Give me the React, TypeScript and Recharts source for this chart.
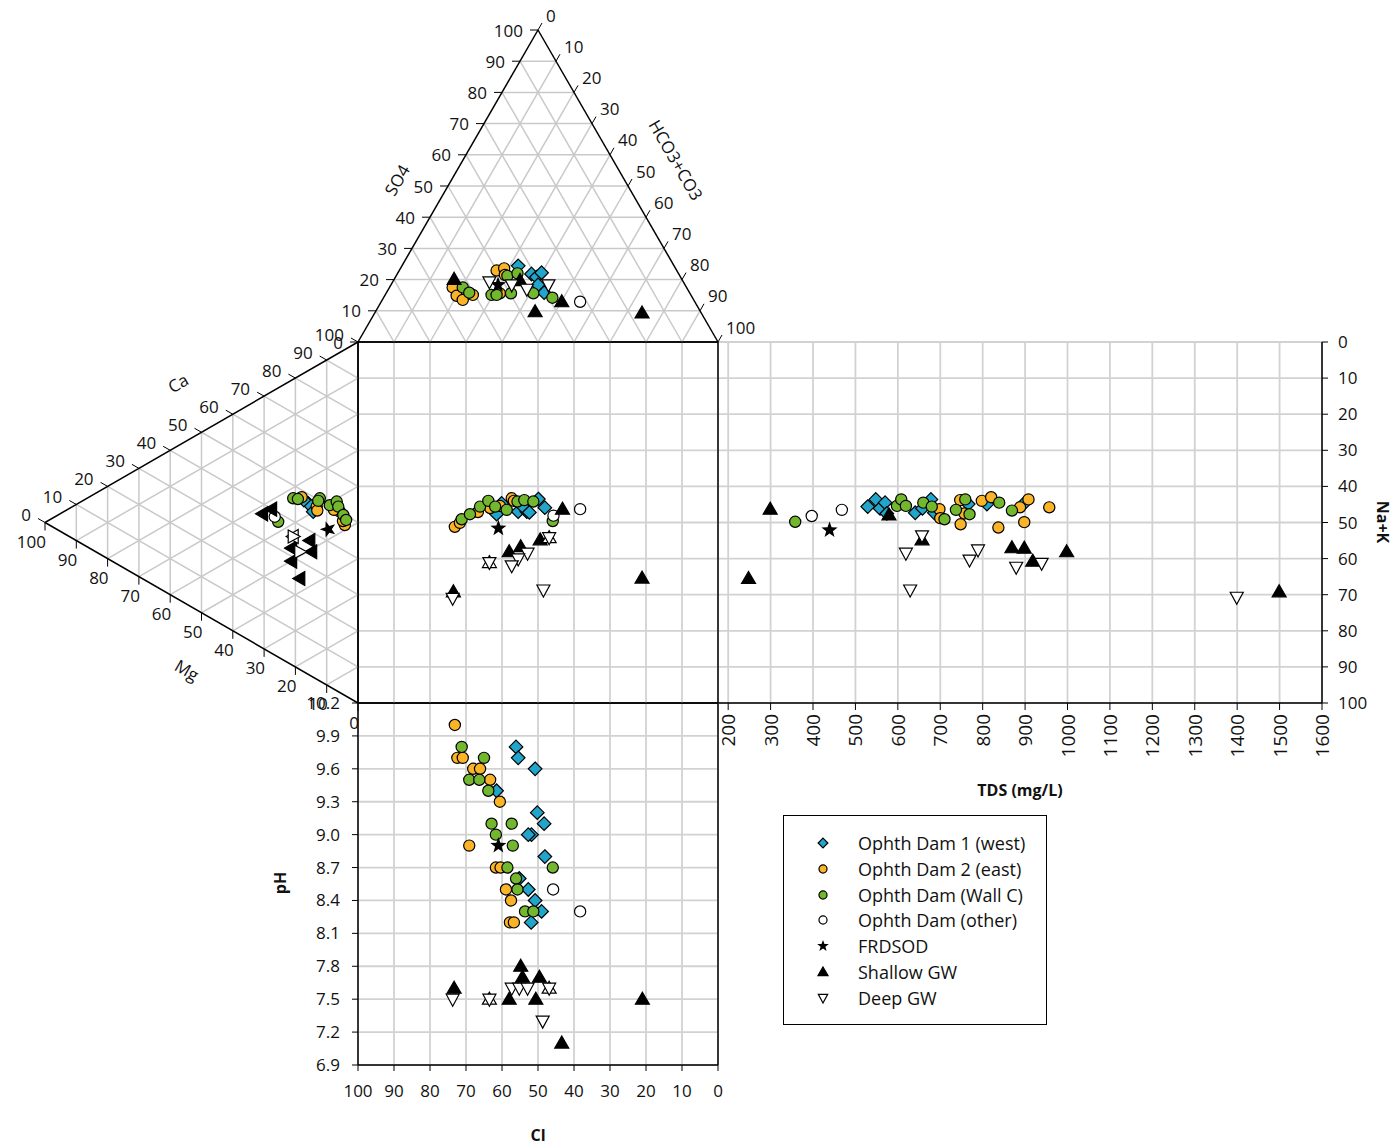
import React from 'react';
import { ScatterChart, Scatter, XAxis, YAxis, ReferenceLine, CartesianGrid } from 'recharts';

type Pt = [number, number];

// anion triangle: [Cl (read on Cl axis), SO4 %]
const topDam1: Pt[] = [[55.5, 24.4], [51.8, 21.8], [50.4, 20.8], [49.0, 22.2], [48.3, 15.8], [50.0, 18.3]];
const topDam2: Pt[] = [[73.7, 17.5], [72.6, 14.8], [70.9, 13.5], [68.1, 15.1], [61.5, 22.9], [59.4, 23.6], [59.2, 21.5], [60.6, 15.6]];
const topWallC: Pt[] = [[70.9, 17.5], [69.1, 15.8], [62.9, 15.1], [61.5, 15.1], [58.5, 21.2], [55.7, 22.0], [57.5, 15.6], [51.3, 15.6], [46.0, 14.2]];
const topOther: Pt[] = [[38.3, 12.9]];
const topFrdsod: Pt[] = [[61.1, 18.3]];
const topShallow: Pt[] = [[73.3, 20.1], [55.0, 19.7], [50.8, 9.7], [43.4, 12.9], [21.1, 9.3]];
const topDeep: Pt[] = [[63.5, 19.3], [57.3, 18.3], [53.1, 16.9], [47.1, 18.3]];

// cation triangle: [Mg %, Na+K (read on Na+K axis)]
const leftDam1: Pt[] = [[15.9, 44.7], [14.3, 47.0], [17.3, 43.8]];
const leftDam2: Pt[] = [[18.0, 43.0], [13.2, 45.6], [13.0, 46.7], [5.8, 47.0], [4.2, 50.7], [7.7, 46.5], [4.8, 49.6]];
const leftWallC: Pt[] = [[20.7, 43.3], [12.2, 43.3], [12.7, 44.0], [9.0, 45.2], [6.8, 44.2], [6.3, 45.6], [4.7, 47.9], [3.8, 49.3], [25.5, 49.8], [19.2, 43.5]];
const leftOther: Pt[] = [[26.6, 48.4]];
const leftFrdsod: Pt[] = [[9.5, 51.9]];
const leftShallow: Pt[] = [[30.5, 47.6], [27.6, 46.3], [15.4, 55.0], [21.2, 57.1], [14.8, 58.1], [21.2, 60.7], [18.6, 65.5]];
const leftDeep: Pt[] = [[18.6, 58.1], [20.7, 53.9]];
const leftHex: Pt[] = [[20.7, 53.9]];

// central square: [Cl, Na+K]
const sqDam1: Pt[] = [[61.5, 47.7], [55.5, 47.0], [53.1, 47.0], [52.4, 47.2], [49.9, 43.5], [48.1, 45.9], [60.1, 44.7], [54.4, 45.4]];
const sqDam2: Pt[] = [[73.1, 51.2], [71.7, 50.1], [66.7, 47.1], [63.3, 46.0], [57.3, 43.3], [56.7, 44.0], [60.6, 45.4]];
const sqWallC: Pt[] = [[71.2, 49.1], [68.9, 47.7], [66.1, 45.6], [63.8, 44.0], [61.9, 45.6], [58.7, 46.5], [55.7, 44.2], [53.8, 43.8], [51.3, 44.2], [45.9, 49.6]];
const sqOther: Pt[] = [[45.7, 48.1], [38.3, 46.3]];
const sqFrdsod: Pt[] = [[61.0, 51.6]];
const sqShallow: Pt[] = [[43.2, 46.3], [49.4, 54.8], [54.8, 56.7], [58.0, 58.1], [73.5, 69.2], [21.1, 65.4]];
const sqDeep: Pt[] = [[52.9, 58.5], [55.5, 60.1], [57.3, 62.0], [48.5, 68.7], [73.7, 71.0], [63.5, 61.1], [46.9, 54.2]];
const sqHex: Pt[] = [[63.5, 61.1], [46.9, 54.2]];

// TDS panel: [TDS mg/L, Na+K]
const tdsDam1: Pt[] = [[529, 45.6], [548, 43.6], [558, 46.1], [570, 44.5], [574, 47.5], [641, 47.3], [658, 46.1], [678, 43.6], [686, 47.3], [766, 44.9], [810, 44.9], [898, 44.7]];
const tdsDam2: Pt[] = [[698, 46.3], [700, 48.8], [747, 43.8], [757, 47.5], [748, 50.5], [798, 44.0], [820, 43.0], [837, 51.4], [888, 45.8], [908, 43.6], [957, 45.8], [898, 49.9]];
const tdsWallC: Pt[] = [[358, 49.8], [598, 45.4], [608, 43.6], [619, 45.4], [660, 44.5], [680, 45.6], [710, 49.1], [737, 46.5], [759, 43.6], [769, 47.7], [839, 44.5], [869, 46.7]];
const tdsOther: Pt[] = [[397, 48.2], [468, 46.5]];
const tdsFrdsod: Pt[] = [[439, 52.1]];
const tdsShallow: Pt[] = [[299, 46.3], [248, 65.5], [579, 47.9], [657, 54.8], [869, 57.0], [898, 57.1], [918, 60.7], [998, 58.1], [1499, 69.2]];
const tdsDeep: Pt[] = [[657, 53.7], [619, 58.5], [769, 60.4], [789, 57.6], [879, 62.4], [629, 68.7], [939, 61.3], [1399, 70.7]];

// pH panel: [Cl, pH]
const phDam1: Pt[] = [[56.1, 9.8], [55.5, 9.7], [50.8, 9.6], [61.5, 9.4], [50.2, 9.2], [48.3, 9.1], [51.8, 9.0], [52.7, 9.0], [48.1, 8.8], [55.2, 8.6], [52.7, 8.5], [50.8, 8.4], [49.0, 8.3], [51.9, 8.2]];
const phDam2: Pt[] = [[73.1, 10.0], [72.4, 9.7], [70.9, 9.7], [68.0, 9.6], [66.1, 9.6], [63.3, 9.5], [60.6, 9.3], [69.1, 8.9], [61.7, 8.7], [60.4, 8.7], [58.9, 8.5], [57.5, 8.4], [57.8, 8.2], [56.7, 8.2]];
const phWallC: Pt[] = [[71.2, 9.8], [65.0, 9.7], [69.1, 9.5], [66.3, 9.5], [63.8, 9.4], [62.9, 9.1], [57.3, 9.1], [61.7, 9.0], [57.0, 8.9], [58.5, 8.7], [45.9, 8.7], [56.1, 8.6], [55.7, 8.5], [53.6, 8.3], [51.3, 8.3]];
const phOther: Pt[] = [[45.8, 8.5], [38.3, 8.3]];
const phFrdsod: Pt[] = [[61.0, 8.9]];
const phShallow: Pt[] = [[73.3, 7.6], [54.8, 7.8], [54.3, 7.7], [49.6, 7.7], [58.0, 7.5], [50.6, 7.5], [21.0, 7.5], [43.4, 7.1]];
const phDeep: Pt[] = [[73.7, 7.5], [57.3, 7.6], [55.2, 7.6], [52.9, 7.6], [48.7, 7.3], [63.5, 7.5], [46.9, 7.6]];
const phHex: Pt[] = [[63.5, 7.5], [46.9, 7.6]];

const GRID = [10, 20, 30, 40, 50, 60, 70, 80, 90];
const LAB = [0, 10, 20, 30, 40, 50, 60, 70, 80, 90, 100];
const PCT_TICKS = [0, 10, 20, 30, 40, 50, 60, 70, 80, 90, 100];
const TDS_TICKS = [200, 300, 400, 500, 600, 700, 800, 900, 1000, 1100, 1200, 1300, 1400, 1500, 1600];
const PH_TICKS = [6.9, 7.2, 7.5, 7.8, 8.1, 8.4, 8.7, 9.0, 9.3, 9.6, 9.9, 10.2];

const SERIES = [
  { key: 'dam1', name: 'Ophth Dam 1 (west)' },
  { key: 'dam2', name: 'Ophth Dam 2 (east)' },
  { key: 'wallC', name: 'Ophth Dam (Wall C)' },
  { key: 'other', name: 'Ophth Dam (other)' },
  { key: 'frdsod', name: 'FRDSOD' },
  { key: 'shallow', name: 'Shallow GW' },
  { key: 'hex', name: '' },
  { key: 'deep', name: 'Deep GW' },
];

const FONT = '"Open Sans", sans-serif';
const BLUE = '#22a5ca';
const ORANGE = '#fbb428';
const GREEN = '#73b72f';
const GRID_T = { stroke: '#c9c9c9', strokeWidth: 1.5 };
const GRID_S = { stroke: '#d2d2d2', strokeWidth: 1.8 };
const EDGE = { stroke: '#000', strokeWidth: 1.5 };
const TXT: React.CSSProperties = { fontFamily: FONT, fontSize: 17, fill: '#111' };

function mark(kind: string, cx: number, cy: number, rot = 0, k = 1): React.ReactElement {
  const tf = rot ? `rotate(${rot} ${cx} ${cy})` : undefined;
  const line = { stroke: '#000', strokeWidth: 1.2 };
  if (kind === 'dam1') {
    const r = 6.8 * k;
    return <polygon transform={tf} points={`${cx},${cy - r} ${cx + r},${cy} ${cx},${cy + r} ${cx - r},${cy}`} fill={BLUE} {...line} />;
  }
  if (kind === 'dam2') return <circle cx={cx} cy={cy} r={5.6 * k} fill={ORANGE} {...line} />;
  if (kind === 'wallC') return <circle cx={cx} cy={cy} r={5.6 * k} fill={GREEN} {...line} />;
  if (kind === 'other') return <circle cx={cx} cy={cy} r={5.6 * k} fill="#fff" {...line} />;
  if (kind === 'frdsod') {
    const pts: string[] = [];
    for (let i = 0; i < 10; i++) {
      const r = (i % 2 === 0 ? 8.5 : 3.5) * k;
      const a = -Math.PI / 2 + (i * Math.PI) / 5;
      pts.push(`${cx + r * Math.cos(a)},${cy + r * Math.sin(a)}`);
    }
    return <polygon transform={tf} points={pts.join(' ')} fill="#000" />;
  }
  if (kind === 'shallow' || kind === 'hex') {
    const w = 7 * k;
    return (
      <polygon transform={tf} points={`${cx},${cy - 7 * k} ${cx + w},${cy + 5 * k} ${cx - w},${cy + 5 * k}`}
        fill={kind === 'shallow' ? '#000' : '#fff'} {...line} />
    );
  }
  const w = 6.5 * k;
  return <polygon transform={tf} points={`${cx - w},${cy - 5 * k} ${cx + w},${cy - 5 * k} ${cx},${cy + 7 * k}`} fill="#fff" {...line} />;
}

const seriesFor = (sets: Record<string, Pt[]>, fx: (p: Pt) => { x: number; y: number }, rot = 0) =>
  SERIES.map((s) => (
    <Scatter key={s.key} name={s.name || 'overlap'} data={(sets[s.key] || []).map(fx)} isAnimationActive={false}
      legendType="none" shape={(p: any) => mark(s.key, p.cx, p.cy, rot)} />
  ));

type Lab = { x: number; y: number; t: string };
const labelSeries = (id: string, data: Lab[], draw: (cx: number, cy: number, t: string) => React.ReactElement) => (
  <Scatter key={id} data={data} isAnimationActive={false} legendType="none" shape={(p: any) => draw(p.cx, p.cy, p.payload.t)} />
);

function TopTriangle() {
  const sets = { dam1: topDam1, dam2: topDam2, wallC: topWallC, other: topOther, frdsod: topFrdsod, shallow: topShallow, deep: topDeep };
  const so4Lab = LAB.map((s) => ({ x: s / 2, y: s, t: String(s) }));
  const hcoLab = LAB.map((h) => ({ x: 50 + h / 2, y: 100 - h, t: String(h) }));
  return (
    <div style={{ position: 'absolute', left: 280, top: 0 }}>
      <ScatterChart width={510} height={370} margin={{ top: 30, right: 72, bottom: 28, left: 78 }}>
        <XAxis type="number" dataKey="x" domain={[0, 100]} hide />
        <YAxis type="number" dataKey="y" domain={[0, 100]} hide />
        {GRID.map((s) => <ReferenceLine key={'s' + s} segment={[{ x: s / 2, y: s }, { x: 100 - s / 2, y: s }]} {...GRID_T} />)}
        {GRID.map((h) => <ReferenceLine key={'h' + h} segment={[{ x: h, y: 0 }, { x: h + (100 - h) / 2, y: 100 - h }]} {...GRID_T} />)}
        {GRID.map((c) => <ReferenceLine key={'c' + c} segment={[{ x: 100 - c, y: 0 }, { x: (100 - c) / 2, y: 100 - c }]} {...GRID_T} />)}
        <ReferenceLine segment={[{ x: 0, y: 0 }, { x: 50, y: 100 }]} {...EDGE} />
        <ReferenceLine segment={[{ x: 50, y: 100 }, { x: 100, y: 0 }]} {...EDGE} />
        <ReferenceLine segment={[{ x: 0, y: 0 }, { x: 100, y: 0 }]} {...EDGE} />
        {labelSeries('so4', so4Lab, (cx, cy, t) => (
          <g>
            <line x1={cx} y1={cy} x2={cx - 8} y2={cy} stroke="#000" />
            <text x={cx - 15} y={cy} textAnchor="end" dominantBaseline="central" style={TXT}>{t}</text>
          </g>
        ))}
        {labelSeries('hco', hcoLab, (cx, cy, t) => (
          <g>
            <line x1={cx} y1={cy} x2={cx + 4} y2={cy - 7} stroke="#000" />
            <text x={cx + 8} y={cy - 15} textAnchor="start" dominantBaseline="central" style={TXT}>{t}</text>
          </g>
        ))}
        {seriesFor(sets, ([cl, so4]) => ({ x: 100 - cl, y: so4 }))}
      </ScatterChart>
    </div>
  );
}

function LeftTriangle() {
  const sets = { dam1: leftDam1, dam2: leftDam2, wallC: leftWallC, other: leftOther, frdsod: leftFrdsod, shallow: leftShallow, hex: leftHex, deep: leftDeep };
  const caLab = LAB.map((c) => ({ x: 100 - c, y: (100 - c) / 2, t: String(c) }));
  const mgLab = LAB.map((m) => ({ x: m, y: 100 - m / 2, t: String(m) }));
  return (
    <div style={{ position: 'absolute', left: 0, top: 320 }}>
      <ScatterChart width={380} height={420} margin={{ top: 22, right: 22, bottom: 37, left: 45 }}>
        <XAxis type="number" dataKey="x" domain={[0, 100]} reversed hide />
        <YAxis type="number" dataKey="y" domain={[0, 100]} reversed hide />
        {GRID.map((m) => <ReferenceLine key={'m' + m} segment={[{ x: m, y: m / 2 }, { x: m, y: 100 - m / 2 }]} {...GRID_T} />)}
        {GRID.map((c) => <ReferenceLine key={'c' + c} segment={[{ x: 0, y: 100 - c }, { x: 100 - c, y: (100 - c) / 2 }]} {...GRID_T} />)}
        {GRID.map((n) => <ReferenceLine key={'n' + n} segment={[{ x: 0, y: n }, { x: 100 - n, y: n + (100 - n) / 2 }]} {...GRID_T} />)}
        <ReferenceLine segment={[{ x: 0, y: 0 }, { x: 100, y: 50 }]} {...EDGE} />
        <ReferenceLine segment={[{ x: 100, y: 50 }, { x: 0, y: 100 }]} {...EDGE} />
        <ReferenceLine segment={[{ x: 0, y: 0 }, { x: 0, y: 100 }]} {...EDGE} />
        {labelSeries('ca', caLab, (cx, cy, t) => (
          <g>
            <line x1={cx} y1={cy} x2={cx - 7} y2={cy - 4} stroke="#000" />
            <text x={cx - 14} y={cy - 8} textAnchor="end" dominantBaseline="central" style={TXT}>{t}</text>
          </g>
        ))}
        {labelSeries('mg', mgLab, (cx, cy, t) => (
          <g>
            <line x1={cx} y1={cy} x2={cx} y2={cy + 8} stroke="#000" />
            <text x={cx + 1} y={cy + 19} textAnchor="end" dominantBaseline="central" style={TXT}>{t}</text>
          </g>
        ))}
        {seriesFor(sets, ([mg, nak]) => ({ x: mg, y: nak }), -90)}
      </ScatterChart>
    </div>
  );
}

function Square() {
  const sets = { dam1: sqDam1, dam2: sqDam2, wallC: sqWallC, other: sqOther, frdsod: sqFrdsod, shallow: sqShallow, hex: sqHex, deep: sqDeep };
  return (
    <div style={{ position: 'absolute', left: 348, top: 332 }}>
      <ScatterChart width={380} height={381} margin={{ top: 10, right: 10, bottom: 10, left: 10 }}>
        <XAxis type="number" dataKey="x" domain={[0, 100]} reversed hide />
        <YAxis type="number" dataKey="y" domain={[0, 100]} reversed hide />
        {GRID.map((v) => <ReferenceLine key={'x' + v} x={v} {...GRID_S} />)}
        {GRID.map((v) => <ReferenceLine key={'y' + v} y={v} {...GRID_S} />)}
        <ReferenceLine x={0} {...EDGE} />
        <ReferenceLine x={100} {...EDGE} />
        <ReferenceLine y={0} {...EDGE} />
        <ReferenceLine y={100} {...EDGE} />
        {seriesFor(sets, ([cl, nak]) => ({ x: cl, y: nak }))}
      </ScatterChart>
    </div>
  );
}

const RotTick = (p: any) => (
  <text x={p.x} y={p.y} transform={`rotate(-90 ${p.x} ${p.y})`} textAnchor="end" dominantBaseline="central"
    style={{ ...TXT, fontSize: 19 }}>{p.payload.value}</text>
);

function TdsPanel() {
  const sets = { dam1: tdsDam1, dam2: tdsDam2, wallC: tdsWallC, other: tdsOther, frdsod: tdsFrdsod, shallow: tdsShallow, deep: tdsDeep };
  return (
    <div style={{ position: 'absolute', left: 700, top: 330 }}>
      <ScatterChart width={694} height={480} margin={{ top: 12, right: 32, bottom: 47, left: 18 }}>
        <CartesianGrid {...GRID_S} />
        <XAxis type="number" dataKey="x" domain={[176, 1600]} ticks={TDS_TICKS} interval={0} height={60}
          tick={<RotTick />} tickSize={7} tickMargin={4} axisLine={{ stroke: '#000', strokeWidth: 1.5 }} tickLine={{ stroke: '#000' }} />
        <YAxis type="number" dataKey="y" orientation="right" domain={[0, 100]} reversed ticks={PCT_TICKS} interval={0} width={40}
          tick={{ ...TXT, fill: '#111' }} tickSize={6} tickMargin={10}
          axisLine={{ stroke: '#000', strokeWidth: 1.5 }} tickLine={{ stroke: '#000' }} />
        {seriesFor(sets, ([tds, nak]) => ({ x: tds, y: nak }))}
      </ScatterChart>
    </div>
  );
}

function PhPanel() {
  const sets = { dam1: phDam1, dam2: phDam2, wallC: phWallC, other: phOther, frdsod: phFrdsod, shallow: phShallow, hex: phHex, deep: phDeep };
  return (
    <div style={{ position: 'absolute', left: 260, top: 693 }}>
      <ScatterChart width={480} height={454} margin={{ top: 10, right: 22, bottom: 42, left: 48 }}>
        <CartesianGrid {...GRID_S} />
        <XAxis type="number" dataKey="x" domain={[0, 100]} reversed ticks={PCT_TICKS} interval={0} height={40}
          tick={{ ...TXT }} tickSize={6} tickMargin={14} axisLine={{ stroke: '#000', strokeWidth: 1.5 }} tickLine={{ stroke: '#000' }} />
        <YAxis type="number" dataKey="y" domain={[6.9, 10.2]} ticks={PH_TICKS} interval={0} width={50}
          tickFormatter={(v: number) => v.toFixed(1)} tick={{ ...TXT }} tickSize={6} tickMargin={12}
          axisLine={{ stroke: '#000', strokeWidth: 1.5 }} tickLine={{ stroke: '#000' }} />
        <ReferenceLine x={0} {...EDGE} />
        <ReferenceLine y={10.2} {...EDGE} />
        {seriesFor(sets, ([cl, ph]) => ({ x: cl, y: ph }))}
      </ScatterChart>
    </div>
  );
}

function Title({ x, y, rot = 0, bold = false, children }: { x: number; y: number; rot?: number; bold?: boolean; children: React.ReactNode }) {
  return (
    <div style={{
      position: 'absolute', left: x, top: y, transform: `translate(-50%, -50%) rotate(${rot}deg)`,
      fontFamily: FONT, fontSize: bold ? 16 : 17, fontWeight: bold ? 700 : 400, whiteSpace: 'nowrap', lineHeight: 1, color: '#111',
    }}>{children}</div>
  );
}

function LegendBox() {
  const items = SERIES.filter((s) => s.name);
  return (
    <div style={{ position: 'absolute', left: 783, top: 815, width: 264, height: 210, border: '1.5px solid #000', boxSizing: 'border-box', background: '#fff' }}>
      {items.map((s, i) => {
        const cy = 27 + i * 25.8;
        return (
          <React.Fragment key={s.key}>
            <svg width={20} height={20} style={{ position: 'absolute', left: 29, top: cy - 10 }}>{mark(s.key, 10, 10, 0, 0.72)}</svg>
            <div style={{ position: 'absolute', left: 74, top: cy - 13, lineHeight: '26px', fontFamily: FONT, fontSize: 18, whiteSpace: 'nowrap', color: '#111' }}>{s.name}</div>
          </React.Fragment>
        );
      })}
    </div>
  );
}

export default function App() {
  return (
    <div style={{ position: 'relative', width: 1394, height: 1147, background: '#fff', overflow: 'hidden' }}>
      <style>{'body{margin:0}'}</style>
      <TdsPanel />
      <PhPanel />
      <Square />
      <TopTriangle />
      <LeftTriangle />
      <LegendBox />
      <Title x={397} y={180} rot={-60}>SO4</Title>
      <Title x={676} y={160} rot={60}>HCO3+CO3</Title>
      <Title x={178} y={383} rot={-30}>Ca</Title>
      <Title x={187} y={670} rot={30}>Mg</Title>
      <Title x={280} y={883} rot={-90} bold>pH</Title>
      <Title x={538} y={1135} bold>Cl</Title>
      <Title x={1020} y={790} bold>TDS (mg/L)</Title>
      <Title x={1383} y={522} rot={90} bold>Na+K</Title>
    </div>
  );
}
